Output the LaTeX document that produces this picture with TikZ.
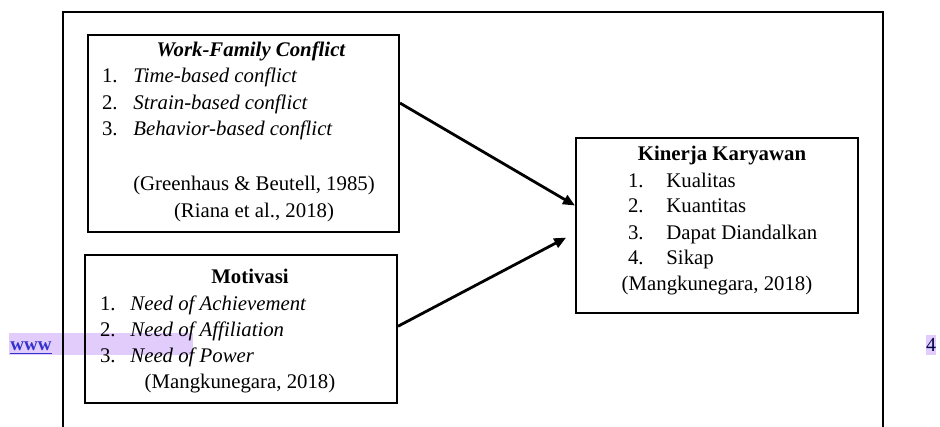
\documentclass[tikz,border=0pt]{standalone}
\usepackage{fontspec}
\setmainfont{Liberation Serif}
\usetikzlibrary{arrows.meta}
\definecolor{hilite}{RGB}{226,204,252}
\definecolor{linkblue}{RGB}{51,51,204}

\tikzset{
    box/.style={draw, line width=1pt, rectangle, inner sep=0pt},
    txt/.style={inner sep=0pt, anchor=base, font=\fontsize{10.4}{13}\selectfont},
    item/.style={txt, anchor=base west},
    num/.style={txt, anchor=base east},
    flow/.style={line width=1.4pt, -{Triangle[length=6pt, width=5pt]}}
}

\begin{document}
\begin{tikzpicture}[x=0.5pt, y=-0.5pt]

    \useasboundingbox (0,0) rectangle (940,427);

    % highlight marks on the page
    \fill[hilite] (9,333) rectangle (193,355);
    \fill[hilite] (926,335) rectangle (936,355);
    \node[inner sep=0pt, anchor=base west, text=linkblue, font=\fontsize{9.5}{10}\selectfont\bfseries] (link) at (10,350) {\underline{www}};
    \node[inner sep=0pt, anchor=base, text=black!70!blue, font=\fontsize{10}{12}\selectfont] (page) at (931,351) {4};

    % outer frame
    \draw[line width=1pt] (63,427) -- (63,12) -- (883,12) -- (883,427);

    % these are the boxes
    \node[box, minimum width=155.5pt, minimum height=98.5pt] (wfc) at (243.5,133.5) {};
    \node[box, minimum width=156pt, minimum height=74pt] (mot) at (241,329) {};
    \node[box, minimum width=141pt, minimum height=87.5pt] (kin) at (717,225.5) {};

    % work-family conflict
    \node[txt, font=\fontsize{10.4}{13}\selectfont\bfseries\itshape] (wfct) at (251,57) {Work-Family Conflict};
    \node[num] (wfc1n) at (118,83) {1.};
    \node[item] (wfc1) at (133,83) {\itshape Time-based conflict};
    \node[num] (wfc2n) at (118,110) {2.};
    \node[item] (wfc2) at (133,110) {\itshape Strain-based conflict};
    \node[num] (wfc3n) at (118,136) {3.};
    \node[item] (wfc3) at (133,136) {\itshape Behavior-based conflict};
    \node[txt] (wfcs1) at (254,191) {(Greenhaus \& Beutell, 1985)};
    \node[txt] (wfcs2) at (254,217) {(Riana et al., 2018)};

    % motivasi
    \node[txt, font=\fontsize{10.4}{13}\selectfont\bfseries] (mott) at (250,283) {Motivasi};
    \node[num] (mot1n) at (116,310) {1.};
    \node[item] (mot1) at (130,310) {\itshape Need of Achievement};
    \node[num] (mot2n) at (116,336) {2.};
    \node[item] (mot2) at (130,336) {\itshape Need of Affiliation};
    \node[num] (mot3n) at (116,362) {3.};
    \node[item] (mot3) at (130,362) {\itshape Need of Power};
    \node[txt] (mots) at (240,388) {(Mangkunegara, 2018)};

    % kinerja karyawan
    \node[txt, font=\fontsize{10.4}{13}\selectfont\bfseries] (kint) at (722,161) {Kinerja Karyawan};
    \node[num] (kin1n) at (644,187) {1.};
    \node[item] (kin1) at (666,187) {Kualitas};
    \node[num] (kin2n) at (644,213) {2.};
    \node[item] (kin2) at (666,213) {Kuantitas};
    \node[num] (kin3n) at (644,239) {3.};
    \node[item] (kin3) at (666,239) {Dapat Diandalkan};
    \node[num] (kin4n) at (644,264) {4.};
    \node[item] (kin4) at (666,264) {Sikap};
    \node[txt] (kins) at (717,290) {(Mangkunegara, 2018)};

    % arrows
    \draw[flow] (wfc.11.5) -- (kin.172.5);
    \draw[flow, shorten >=5pt] (mot.1.5) -- (kin.183.7);

\end{tikzpicture}
\end{document}
